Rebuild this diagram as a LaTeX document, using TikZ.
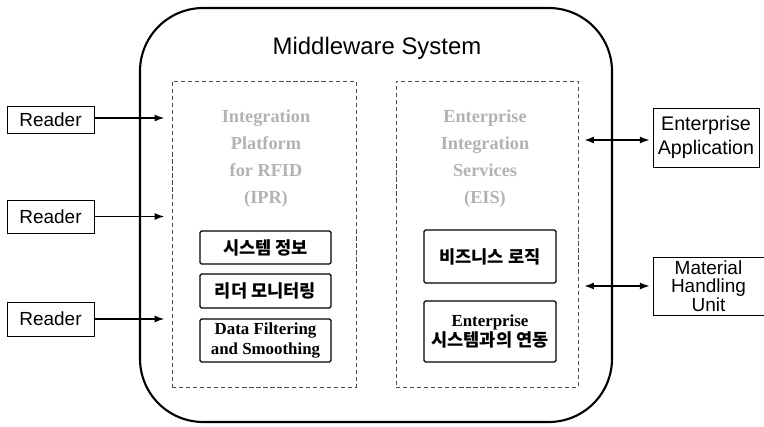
\documentclass[tikz,border=0pt]{standalone}
\usepackage{fontspec}
\setmainfont{Liberation Serif}
\setsansfont{Liberation Sans}
\newfontfamily\kr{Noto Sans CJK KR}
\usetikzlibrary{positioning, arrows.meta}

\begin{document}
\begin{tikzpicture}[
        x=0.025cm, y=-0.025cm,
        outer/.style={draw, rectangle, line width=0.6pt, align=center, font=\sffamily\fontsize{13.5}{16}\selectfont, inner sep=0pt},
        layer/.style={draw=black!70, densely dashed, line width=0.7pt, rectangle, inner sep=0pt},
        module/.style={draw, line width=0.9pt, rounded corners=1pt, rectangle, align=center, inner sep=0pt, font=\bfseries\fontsize{12}{14}\selectfont},
        faded/.style={align=center, text=black!30, font=\bfseries\fontsize{13}{19.2}\selectfont},
        link/.style={-{Latex[length=7pt,width=5pt]}, line width=1.2pt}
    ]
    \useasboundingbox (0,0) rectangle (764,427);

    % Rahmen Middleware
    \node[draw, rectangle, line width=1.5pt, rounded corners=45pt, minimum width=472*0.025cm, minimum height=414*0.025cm] (middleware) at (376,215) {};
    \node[font=\sffamily\fontsize{17}{19}\selectfont] (title) at (377,48) {Middleware System};

    % IPR-Bereich
    \node[layer, minimum width=184*0.025cm, minimum height=306*0.025cm] (ipr) at (264,234) {};
    \node[faded] (ipr_name) at (266,159) {Integration\\Platform\\for RFID\\(IPR)};
    \node[module, minimum width=131*0.025cm, minimum height=33*0.025cm] (sysinfo) at (265.5,247.5) {\kr\fontsize{12.5}{14}\selectfont 시스템 정보};
    \node[module, minimum width=131*0.025cm, minimum height=34*0.025cm] (monitor) at (265.5,291) {\kr\fontsize{12.5}{14}\selectfont 리더 모니터링};
    \node[module, minimum width=131*0.025cm, minimum height=43*0.025cm] (filter) at (265.5,340.5) {Data Filtering\\and Smoothing};

    % EIS-Bereich
    \node[layer, minimum width=182*0.025cm, minimum height=306*0.025cm] (eis) at (487,234) {};
    \node[faded] (eis_name) at (485,159) {Enterprise\\Integration\\Services\\(EIS)};
    \node[module, minimum width=132*0.025cm, minimum height=53*0.025cm] (logic) at (490,256.5) {\kr\fontsize{12.5}{14}\selectfont 비즈니스 로직};
    \node[module, minimum width=132*0.025cm, minimum height=61*0.025cm] (coop) at (490,331.5) {Enterprise\\{\kr\fontsize{12.5}{14}\selectfont 시스템과의 연동}};

    % Reader links
    \node[outer, minimum width=87*0.025cm, minimum height=27*0.025cm] (reader_a) at (50.5,120) {Reader};
    \node[outer, minimum width=87*0.025cm, minimum height=33*0.025cm] (reader_b) at (50.5,216.5) {Reader};
    \node[outer, minimum width=87*0.025cm, minimum height=34*0.025cm] (reader_c) at (50.5,319) {Reader};

    % Externe Systeme rechts
    \node[outer, minimum width=106*0.025cm, minimum height=59*0.025cm, font=\sffamily\fontsize{14}{17}\selectfont] (app) at (706,137.5) {Enterprise\\Application};
    \node[outer, minimum width=111*0.025cm, minimum height=58*0.025cm, font=\sffamily\fontsize{13.5}{12.5}\selectfont] (mhu) at (708.5,286) {Material\\Handling\\Unit};

    % Pfeile
    \draw[link] (reader_a.east |- 0,118) -- ([xshift=-5pt]ipr.west |- 0,118);
    \draw[link] (reader_b.east) -- ([xshift=-5pt]ipr.west |- reader_b.east);
    \draw[link] (reader_c.east) -- ([xshift=-5pt]ipr.west |- reader_c.east);
    \draw[link, {Latex[length=7pt,width=5pt]}-{Latex[length=7pt,width=5pt]}] ([xshift=4pt]eis.east |- 0,140) -- ([xshift=-2pt]app.west |- 0,140);
    \draw[link, {Latex[length=7pt,width=5pt]}-{Latex[length=7pt,width=5pt]}] ([xshift=4pt]eis.east |- mhu.west) -- ([xshift=-2pt]mhu.west);
\end{tikzpicture}
\end{document}
